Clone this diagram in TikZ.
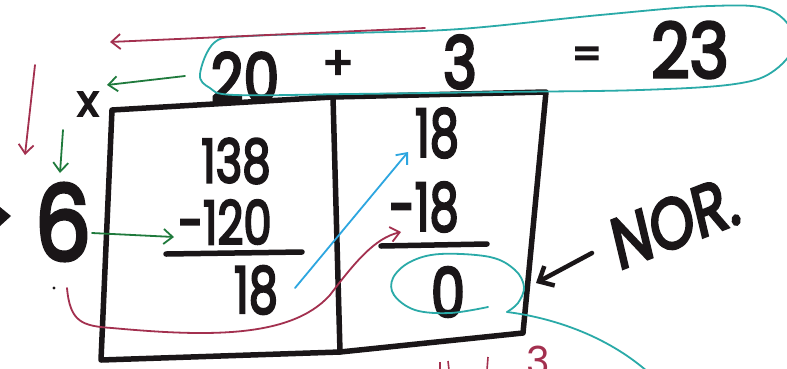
\documentclass[tikz,border=0pt]{standalone}
\usepackage{fontspec}
\setmainfont{Poppins}
\newfontfamily\handfont{Poppins}[FakeBold=4]
\usetikzlibrary{arrows.meta}
\definecolor{ink}{HTML}{1A1618}
\definecolor{maroonc}{HTML}{A3304F}
\definecolor{greenc}{HTML}{1F7A3C}
\definecolor{bluec}{HTML}{2DA6E0}
\definecolor{tealc}{HTML}{2AAAA8}
\begin{document}
\begin{tikzpicture}[x=1pt,y=-1pt,
  num/.style={font=\handfont\fontsize{#1}{#1}\selectfont, text=ink, inner sep=0pt},
  boxline/.style={draw=ink, line width=5.5pt, line cap=round, line join=round},
  barb/.style={-{Straight Barb[length=9pt,width=15pt]}},
  marline/.style={draw=maroonc, line width=1.8pt, line cap=round, barb},
  grnline/.style={draw=greenc, line width=1.8pt, line cap=round, barb},
  bluline/.style={draw=bluec, line width=1.8pt, line cap=round, barb},
  tealline/.style={draw=tealc, line width=1.8pt, line cap=round}]
\useasboundingbox (0,0) rectangle (787,368);
\clip (0,0) rectangle (787,368);
\fill[white] (0,0) rectangle (787,368);

% box
\coordinate (TL) at (112,110);
\coordinate (TM) at (333,97);
\coordinate (TR) at (546,92);
\coordinate (BR) at (523,333);
\coordinate (BM) at (340,352);
\coordinate (BL) at (101,360);
\draw[boxline] (TL) -- (TM) -- (TR) -- (BR) -- (BM) -- (BL) -- cycle;
\draw[boxline] (TM) -- (BM);

% texts
\node[num=67, xscale=0.85] (n20) at (245,77) {20};
\node[num=46] (plus) at (338,65) {+};
\node[num=72, xscale=0.8] (n3) at (460,62) {3};
\node[num=42] (eq) at (587,58) {=};
\node[num=76, xscale=0.88] (n23) at (690,50) {23};
\node[num=44] (times) at (88,104) {x};
\node[num=104, xscale=0.85] (n6) at (63,222) {6};
\node[num=60, xscale=0.75] (n138) at (236,161) {138};
\node[num=60, xscale=0.75] (n120) at (225,222) {-120};
\node[num=64, xscale=0.72] (n18a) at (256,290) {18};
\node[num=66, xscale=0.7] (n18b) at (437,133) {18};
\node[num=66, xscale=0.7] (n18c) at (424,207) {-18};
\node[num=68, xscale=0.8] (n0) at (448,292) {0};
\node[num=72, xscale=0.78, rotate=17] (nor) at (675,222) {NOR.};
\node[font=\fontsize{40}{40}\selectfont, text=maroonc, inner sep=0pt, anchor=north] (r3) at (538,346) {3};

% underlines
\coordinate (u1a) at (166,254); \coordinate (u1b) at (302,252);
\coordinate (u2a) at (381,246); \coordinate (u2b) at (487,244);
\draw[boxline] (u1a) -- (u1b);
\draw[boxline] (u2a) -- (u2b);

% teal loops
\draw[tealline] plot[smooth cycle, tension=0.6] coordinates {(200,74) (215,42) (250,36) (350,33) (460,29) (600,15) (710,6) (770,10) (795,40) (775,70) (735,84) (640,90) (500,92) (350,94) (235,95) (210,88)};
\coordinate (z0) at (488,307);
\coordinate (z1) at (507,312);
\coordinate (z2) at (648,372);
\draw[tealline] plot[smooth, tension=0.6] coordinates {(z0) (450,313) (415,310) (394,295) (393,278) (410,262) (440,254) (490,257) (515,270) (524,287) (518,303) (z1)};
\draw[tealline] (z1) .. controls (540,316) and (600,330) .. (z2);

% maroon arrows
\coordinate (ra) at (425,28); \coordinate (rb) at (110,42);
\draw[marline] (ra) -- (rb);
\coordinate (rc) at (35,65); \coordinate (rd) at (25,155);
\draw[marline] (rc) -- (rd);
\coordinate (re) at (67,288); \coordinate (rf) at (401,232);
\draw[marline] (re) .. controls (70,322) and (82,326) .. (112,328) .. controls (200,336) and (290,340) .. (330,295) .. controls (355,262) and (375,238) .. (rf);

% green arrows
\coordinate (ga) at (185,76); \coordinate (gb) at (107,85);
\draw[grnline] (ga) -- (gb);
\coordinate (gc) at (63,130); \coordinate (gd) at (60,173);
\draw[grnline] (gc) -- (gd);
\coordinate (ge) at (92,233); \coordinate (gf) at (174,237);
\draw[grnline] (ge) -- (gf);

% blue arrow
\coordinate (ba) at (295,288); \coordinate (bb) at (408,152);
\draw[bluline] (ba) -- (bb);

% NOR arrow
\coordinate (ka) at (592,253); \coordinate (kb) at (536,283);
\draw[draw=ink, line width=4.5pt, line cap=round, -{Straight Barb[length=12pt,width=22pt]}] (ka) -- (kb);

% marks
\fill[ink] (54,288) circle (1.6);
\fill[ink] (0,207) -- (11,216) -- (0,226) -- cycle;
\draw[maroonc, line width=1.6pt] (440,362) -- (440,370);
\draw[maroonc, line width=1.6pt] (448,361) -- (449,370);
\draw[maroonc, line width=1.6pt] (488,357) -- (487,370);
\end{tikzpicture}
\end{document}
